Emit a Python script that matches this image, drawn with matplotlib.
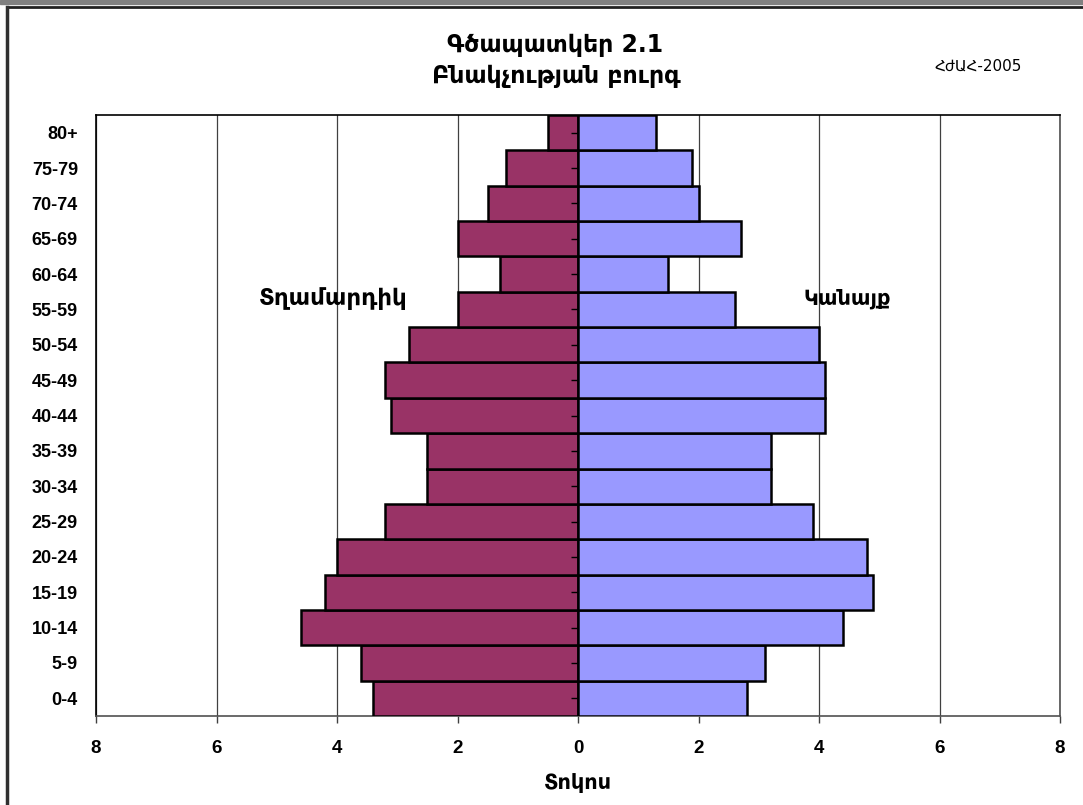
import numpy as np
import matplotlib.pyplot as plt
from matplotlib.lines import Line2D
from matplotlib.patches import Rectangle

# age groups, bottom to top
ages = ["0-4", "5-9", "10-14", "15-19", "20-24", "25-29", "30-34", "35-39",
        "40-44", "45-49", "50-54", "55-59", "60-64", "65-69", "70-74",
        "75-79", "80+"]
# percent of population
men = [3.4, 3.6, 4.6, 4.2, 4.0, 3.2, 2.5, 2.5, 3.1, 3.2, 2.8, 2.0, 1.3,
       2.0, 1.5, 1.2, 0.5]
women = [2.8, 3.1, 4.4, 4.9, 4.8, 3.9, 3.2, 3.2, 4.1, 4.1, 4.0, 2.6, 1.5,
         2.7, 2.0, 1.9, 1.3]
xticks = [-8, -6, -4, -2, 0, 2, 4, 6, 8]

plt.rcParams['font.family'] = ['Liberation Sans', 'DejaVu Sans']
arm = ['DejaVu Sans']

fig = plt.figure(figsize=(10.83, 8.05), dpi=100)
ax = fig.add_axes([96 / 1083, 1 - 716 / 805, 964 / 1083, 601 / 805])

y = np.arange(len(ages))
ax.barh(y, -np.array(men), height=1.0, color='#993366', edgecolor='black',
        linewidth=1.8, zorder=3)
ax.barh(y, women, height=1.0, color='#9999FF', edgecolor='black',
        linewidth=1.8, zorder=3)

# small ticks on the central axis
ax.plot(np.zeros(len(y)), y, linestyle='none', marker=0, markersize=5,
        color='black', markeredgewidth=1, zorder=4)

ax.set_xlim(-8, 8)
ax.set_ylim(-0.5, len(ages) - 0.5)
ax.set_xticks(xticks)
ax.set_xticklabels([str(abs(v)) for v in xticks], fontsize=13.5,
                   fontweight='bold')
ax.set_yticks(y)
ax.set_yticklabels(ages, fontsize=13, fontweight='bold')
ax.tick_params(axis='y', length=0, pad=13)
ax.tick_params(axis='x', length=5, width=1, pad=12, color='#404040')
ax.xaxis.grid(True, color='#404040', linewidth=0.9, zorder=0)
ax.set_axisbelow(True)
for s in ['top', 'left']:
    ax.spines[s].set_color('black')
    ax.spines[s].set_linewidth(1.2)
for s in ['bottom', 'right']:
    ax.spines[s].set_color('#505050')
    ax.spines[s].set_linewidth(1.2)

ax.set_xlabel("Տոկոս", fontsize=15, fontweight='bold', family=arm,
              labelpad=12)

ax.text(-4.06, 11.3, "Տղամարդիկ", fontsize=16.5, fontweight='bold',
        family=arm, ha='center', va='center')
ax.text(4.47, 11.3, "Կանայք", fontsize=15, fontweight='bold',
        family=arm, ha='center', va='center')

fig.text(555 / 1083, 1 - 45 / 805, "Գծապատկեր 2.1", fontsize=17,
         fontweight='bold', family=arm, ha='center', va='center')
fig.text(556 / 1083, 1 - 76 / 805, "Բնակչության բուրգ", fontsize=17,
         fontweight='bold', family=arm, ha='center', va='center')
fig.text(978 / 1083, 1 - 66 / 805, "ՀժԱՀ-2005", fontsize=11,
         family=arm, ha='center', va='center')

# outer frame like the spreadsheet chart area
fig.patches.append(Rectangle((0, 1 - 4 / 805), 1, 4 / 805,
                             transform=fig.transFigure, color='#808080'))
fig.lines.append(Line2D([7 / 1083, 1], [1 - 7 / 805, 1 - 7 / 805],
                        transform=fig.transFigure, color='#202020',
                        linewidth=2))
fig.lines.append(Line2D([7 / 1083, 7 / 1083], [0, 1 - 7 / 805],
                        transform=fig.transFigure, color='#303030',
                        linewidth=2.5))

fig.savefig("out.png", dpi=100)
